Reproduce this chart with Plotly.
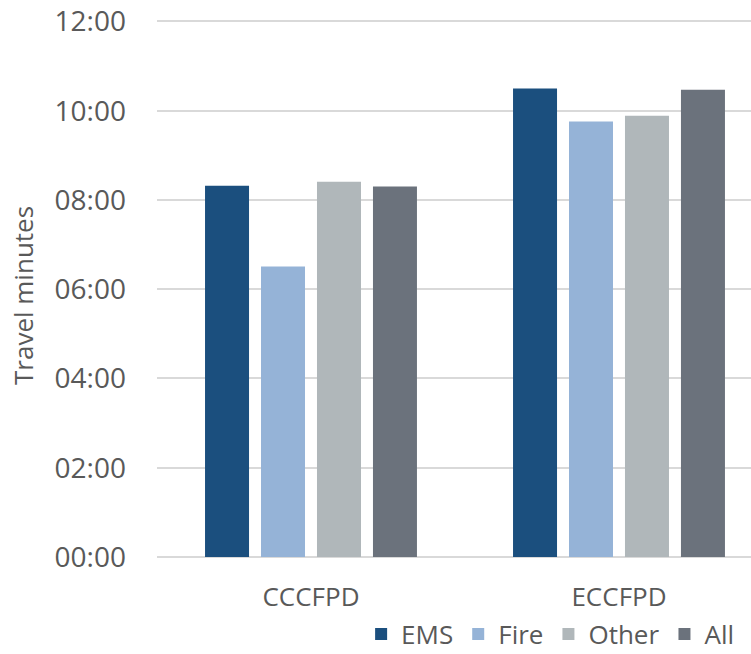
import plotly.graph_objects as go

categories = ["CCCFPD", "ECCFPD"]
series_names = ["EMS", "Fire", "Other", "All"]
ems = [8.32, 10.50]
fire = [6.51, 9.76]
other = [8.41, 9.89]
all_ = [8.30, 10.47]
colors = ["#1b4f7e", "#95b3d7", "#b0b7ba", "#6b727c"]
tick_vals = [0, 2, 4, 6, 8, 10, 12]
tick_text = ["00:00", "02:00", "04:00", "06:00", "08:00", "10:00", "12:00"]

fig = go.Figure()
for name, vals, col in zip(series_names, [ems, fire, other, all_], colors):
    fig.add_trace(go.Bar(x=categories, y=vals, name=name, marker_color=col,
                         marker_line_width=0))

font = "Open Sans, Lato, sans-serif"
txt = "#595959"
fig.update_layout(
    width=751, height=654,
    margin=dict(l=157, r=0, t=17, b=97, autoexpand=False),
    paper_bgcolor="white", plot_bgcolor="white",
    barmode="group", bargap=0.273, bargroupgap=0.214,
    font=dict(family=font, size=26, color=txt),
    xaxis=dict(range=[-0.5, 1.4286], showgrid=False, showline=False,
               ticks="", automargin=False, ticklabelstandoff=22,
               tickfont=dict(size=26, color=txt)),
    yaxis=dict(range=[0, 12.1], tickvals=tick_vals, ticktext=tick_text,
               showgrid=True, gridcolor="#d9d9d9", gridwidth=1.5,
               zeroline=True, zerolinecolor="#d9d9d9", zerolinewidth=1.5,
               showline=False, ticks="", automargin=False,
               ticklabelstandoff=30,
               tickfont=dict(size=28, color=txt)),
    legend=dict(orientation="h", x=0.98, xanchor="right", y=-0.1426, yanchor="middle",
                font=dict(size=26, color=txt), itemwidth=30,
                traceorder="normal", bgcolor="rgba(0,0,0,0)"),
    annotations=[dict(text="Travel minutes", textangle=-90, xref="paper", yref="paper",
                      x=(23 - 157) / 594, y=(557 - 296) / 540, xanchor="center",
                      yanchor="middle", showarrow=False,
                      font=dict(size=26, color=txt))],
)
fig.write_html("out.html", config={"displayModeBar": False},
               post_script="document.body.style.margin='0';document.body.style.padding='0';")
